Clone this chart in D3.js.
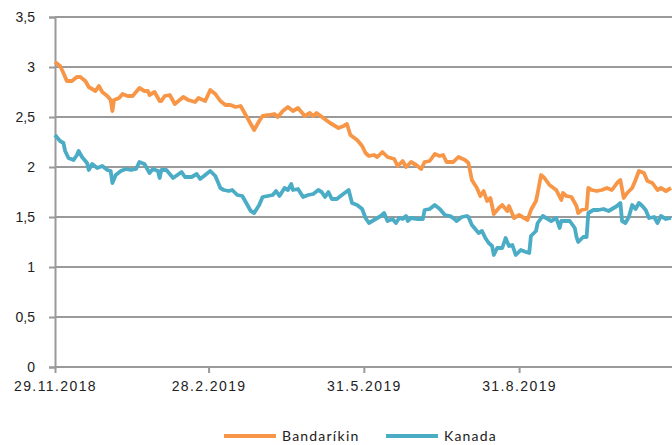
<!DOCTYPE html>
<html>
<head>
<meta charset="utf-8">
<script src="https://cdn.jsdelivr.net/npm/d3@7"></script>
<style>
  body { margin: 0; background: #fff; }
  svg { display: block; font-family: Lato, "Open Sans", sans-serif; }
  .grid line { stroke: #9a9a9a; stroke-width: 2; }
  .tick text { fill: #222; font-size: 14px; }
  .xax .tick text { letter-spacing: 1.4px; }
</style>
</head>
<body>
<div id="chart"></div>
<script>
// Bandaríkin
var usDates = ["2018-11-29","2018-12-02","2018-12-04","2018-12-06","2018-12-09","2018-12-12","2018-12-14","2018-12-17","2018-12-19","2018-12-23","2018-12-25","2018-12-27","2018-12-30","2019-01-01","2019-01-02","2019-01-03","2019-01-06","2019-01-08","2019-01-11","2019-01-14","2019-01-18","2019-01-21","2019-01-23","2019-01-24","2019-01-27","2019-01-30","2019-01-31","2019-02-02","2019-02-05","2019-02-08","2019-02-13","2019-02-16","2019-02-20","2019-02-22","2019-02-26","2019-03-01","2019-03-04","2019-03-07","2019-03-10","2019-03-13","2019-03-16","2019-03-19","2019-03-22","2019-03-24","2019-03-27","2019-03-30","2019-04-01","2019-04-05","2019-04-08","2019-04-10","2019-04-13","2019-04-16","2019-04-19","2019-04-22","2019-04-26","2019-04-29","2019-05-01","2019-05-03","2019-05-07","2019-05-11","2019-05-16","2019-05-19","2019-05-21","2019-05-23","2019-05-27","2019-05-30","2019-06-01","2019-06-03","2019-06-06","2019-06-08","2019-06-11","2019-06-14","2019-06-18","2019-06-20","2019-06-23","2019-06-25","2019-06-28","2019-07-01","2019-07-04","2019-07-06","2019-07-09","2019-07-12","2019-07-15","2019-07-17","2019-07-19","2019-07-23","2019-07-26","2019-07-30","2019-08-01","2019-08-03","2019-08-06","2019-08-08","2019-08-10","2019-08-12","2019-08-14","2019-08-16","2019-08-19","2019-08-21","2019-08-24","2019-08-25","2019-08-28","2019-08-31","2019-09-03","2019-09-05","2019-09-07","2019-09-10","2019-09-11","2019-09-13","2019-09-15","2019-09-18","2019-09-22","2019-09-25","2019-09-26","2019-09-28","2019-10-01","2019-10-04","2019-10-05","2019-10-07","2019-10-10","2019-10-11","2019-10-13","2019-10-16","2019-10-19","2019-10-22","2019-10-25","2019-10-28","2019-10-30","2019-11-01","2019-11-03","2019-11-06","2019-11-08","2019-11-10","2019-11-13","2019-11-15","2019-11-18","2019-11-21","2019-11-23","2019-11-26","2019-11-29"];
var usRates = [3.05,3.01,2.94,2.86,2.86,2.90,2.90,2.86,2.80,2.76,2.81,2.75,2.71,2.67,2.56,2.67,2.69,2.73,2.71,2.71,2.79,2.76,2.76,2.72,2.75,2.66,2.66,2.71,2.72,2.63,2.70,2.67,2.65,2.69,2.66,2.77,2.73,2.66,2.62,2.62,2.60,2.61,2.52,2.46,2.37,2.46,2.51,2.52,2.53,2.50,2.56,2.60,2.56,2.59,2.51,2.54,2.51,2.54,2.49,2.44,2.39,2.41,2.43,2.32,2.27,2.21,2.14,2.11,2.12,2.10,2.15,2.10,2.08,2.01,2.06,2.00,2.05,2.02,1.98,2.05,2.06,2.13,2.11,2.12,2.05,2.05,2.10,2.07,2.04,1.87,1.79,1.71,1.76,1.66,1.69,1.53,1.59,1.62,1.56,1.61,1.49,1.52,1.49,1.47,1.57,1.66,1.74,1.92,1.89,1.82,1.77,1.67,1.74,1.71,1.70,1.61,1.54,1.57,1.58,1.79,1.77,1.76,1.77,1.79,1.77,1.84,1.87,1.69,1.74,1.79,1.87,1.96,1.94,1.86,1.84,1.77,1.79,1.76,1.79];

// Kanada
var caDates = ["2018-11-29","2018-12-02","2018-12-04","2018-12-05","2018-12-07","2018-12-10","2018-12-12","2018-12-13","2018-12-15","2018-12-18","2018-12-19","2018-12-21","2018-12-24","2018-12-27","2018-12-30","2019-01-01","2019-01-02","2019-01-04","2019-01-07","2019-01-10","2019-01-13","2019-01-16","2019-01-18","2019-01-21","2019-01-24","2019-01-26","2019-01-29","2019-01-30","2019-01-31","2019-02-03","2019-02-07","2019-02-12","2019-02-14","2019-02-18","2019-02-21","2019-02-23","2019-02-26","2019-03-01","2019-03-04","2019-03-07","2019-03-09","2019-03-12","2019-03-14","2019-03-17","2019-03-20","2019-03-23","2019-03-25","2019-03-27","2019-03-30","2019-04-01","2019-04-04","2019-04-07","2019-04-09","2019-04-11","2019-04-14","2019-04-16","2019-04-18","2019-04-19","2019-04-22","2019-04-25","2019-04-28","2019-05-01","2019-05-04","2019-05-06","2019-05-08","2019-05-10","2019-05-12","2019-05-15","2019-05-18","2019-05-22","2019-05-24","2019-05-27","2019-05-30","2019-06-01","2019-06-03","2019-06-07","2019-06-10","2019-06-12","2019-06-14","2019-06-17","2019-06-19","2019-06-21","2019-06-23","2019-06-25","2019-06-26","2019-06-28","2019-07-02","2019-07-05","2019-07-06","2019-07-09","2019-07-12","2019-07-15","2019-07-18","2019-07-21","2019-07-23","2019-07-25","2019-07-28","2019-07-31","2019-08-01","2019-08-03","2019-08-07","2019-08-09","2019-08-11","2019-08-13","2019-08-15","2019-08-16","2019-08-18","2019-08-21","2019-08-23","2019-08-25","2019-08-27","2019-08-29","2019-09-01","2019-09-04","2019-09-06","2019-09-07","2019-09-10","2019-09-11","2019-09-14","2019-09-16","2019-09-19","2019-09-22","2019-09-24","2019-09-25","2019-09-27","2019-09-30","2019-10-03","2019-10-04","2019-10-05","2019-10-08","2019-10-10","2019-10-11","2019-10-14","2019-10-17","2019-10-20","2019-10-23","2019-10-25","2019-10-28","2019-10-30","2019-10-31","2019-11-02","2019-11-04","2019-11-06","2019-11-08","2019-11-10","2019-11-12","2019-11-14","2019-11-16","2019-11-19","2019-11-21","2019-11-23","2019-11-26","2019-11-29"];
var caRates = [2.32,2.26,2.24,2.16,2.09,2.07,2.12,2.16,2.10,2.04,1.97,2.03,1.99,2.01,1.97,1.96,1.84,1.92,1.96,1.98,1.97,1.98,2.05,2.03,1.94,1.98,1.96,1.89,1.97,1.97,1.89,1.95,1.90,1.90,1.93,1.88,1.92,1.96,1.91,1.79,1.77,1.76,1.77,1.72,1.71,1.62,1.56,1.54,1.62,1.70,1.71,1.72,1.76,1.71,1.79,1.77,1.83,1.77,1.78,1.70,1.72,1.73,1.77,1.75,1.70,1.75,1.68,1.68,1.72,1.77,1.64,1.62,1.58,1.49,1.44,1.48,1.51,1.54,1.46,1.48,1.44,1.49,1.48,1.51,1.46,1.49,1.48,1.48,1.57,1.58,1.62,1.58,1.52,1.51,1.49,1.46,1.50,1.51,1.50,1.42,1.34,1.36,1.29,1.24,1.21,1.12,1.19,1.19,1.29,1.21,1.22,1.12,1.17,1.15,1.14,1.31,1.36,1.44,1.51,1.49,1.46,1.49,1.39,1.46,1.46,1.46,1.39,1.30,1.25,1.30,1.30,1.54,1.57,1.57,1.58,1.56,1.58,1.61,1.64,1.46,1.44,1.50,1.62,1.58,1.64,1.61,1.57,1.49,1.50,1.44,1.51,1.48,1.49];

var seriesNames = ["Bandaríkin", "Kanada"];
var seriesColors = ["#f79646", "#4bacc6"];
var xTickDates = ["2018-11-29", "2019-02-28", "2019-05-31", "2019-08-31"];
var yTicks = [0, 0.5, 1, 1.5, 2, 2.5, 3, 3.5];

var W = 672, H = 445;
var plot = { left: 55, right: 671, top: 17, bottom: 367 };

var parse = d3.timeParse("%Y-%m-%d");
var fmtDate = d3.timeFormat("%-d.%-m.%Y");
var fmtNum = function(v) { return String(v).replace(".", ","); };

var x = d3.scaleTime()
  .domain([parse("2018-11-29"), parse("2019-11-29")])
  .range([plot.left, plot.right]);
var y = d3.scaleLinear()
  .domain([0, 3.5])
  .range([plot.bottom, plot.top]);

var svg = d3.select("#chart").append("svg")
  .attr("width", W)
  .attr("height", H);

// horizontal gridlines
svg.append("g")
  .attr("class", "grid")
  .selectAll("line")
  .data(yTicks)
  .enter().append("line")
  .attr("x1", plot.left)
  .attr("x2", W)
  .attr("y1", function(d) { return Math.round(y(d)); })
  .attr("y2", function(d) { return Math.round(y(d)); });

// y axis
var yAxis = svg.append("g")
  .attr("transform", "translate(" + plot.left + ",0)")
  .call(d3.axisLeft(y).tickValues(yTicks).tickSize(6).tickPadding(14).tickFormat(fmtNum));
yAxis.select(".domain").attr("stroke", "#9a9a9a").attr("stroke-width", 2);
yAxis.selectAll(".tick line").attr("stroke", "#9a9a9a").attr("stroke-width", 2);

// x axis
var xAxis = svg.append("g")
  .attr("class", "xax")
  .attr("transform", "translate(0," + plot.bottom + ")")
  .call(d3.axisBottom(x).tickValues(xTickDates.map(parse)).tickSize(6).tickPadding(8).tickFormat(fmtDate));
xAxis.select(".domain").remove();
xAxis.selectAll(".tick line").attr("stroke", "#9a9a9a").attr("stroke-width", 2);

// lines
var line = d3.line()
  .x(function(d) { return x(d.date); })
  .y(function(d) { return y(d.value); });

var series = [
  { name: seriesNames[0], color: seriesColors[0], dates: usDates, values: usRates },
  { name: seriesNames[1], color: seriesColors[1], dates: caDates, values: caRates }
];

series.forEach(function(s) {
  var pts = s.dates.map(function(d, i) { return { date: parse(d), value: s.values[i] }; });
  svg.append("path")
    .datum(pts)
    .attr("fill", "none")
    .attr("stroke", s.color)
    .attr("stroke-width", 3.8)
    .attr("stroke-linejoin", "round")
    .attr("d", line);
});

// legend
var legendX = [224, 386];
var legend = svg.append("g").selectAll("g")
  .data(series)
  .enter().append("g")
  .attr("transform", function(d, i) { return "translate(" + legendX[i] + ",436)"; });
legend.append("line")
  .attr("x1", 0).attr("x2", 52)
  .attr("stroke", function(d) { return d.color; })
  .attr("stroke-width", 4);
legend.append("text")
  .attr("x", 58)
  .attr("dy", "0.36em")
  .attr("fill", "#222")
  .style("font-size", "14px")
  .style("letter-spacing", "1.2px")
  .text(function(d) { return d.name; });
</script>
</body>
</html>
